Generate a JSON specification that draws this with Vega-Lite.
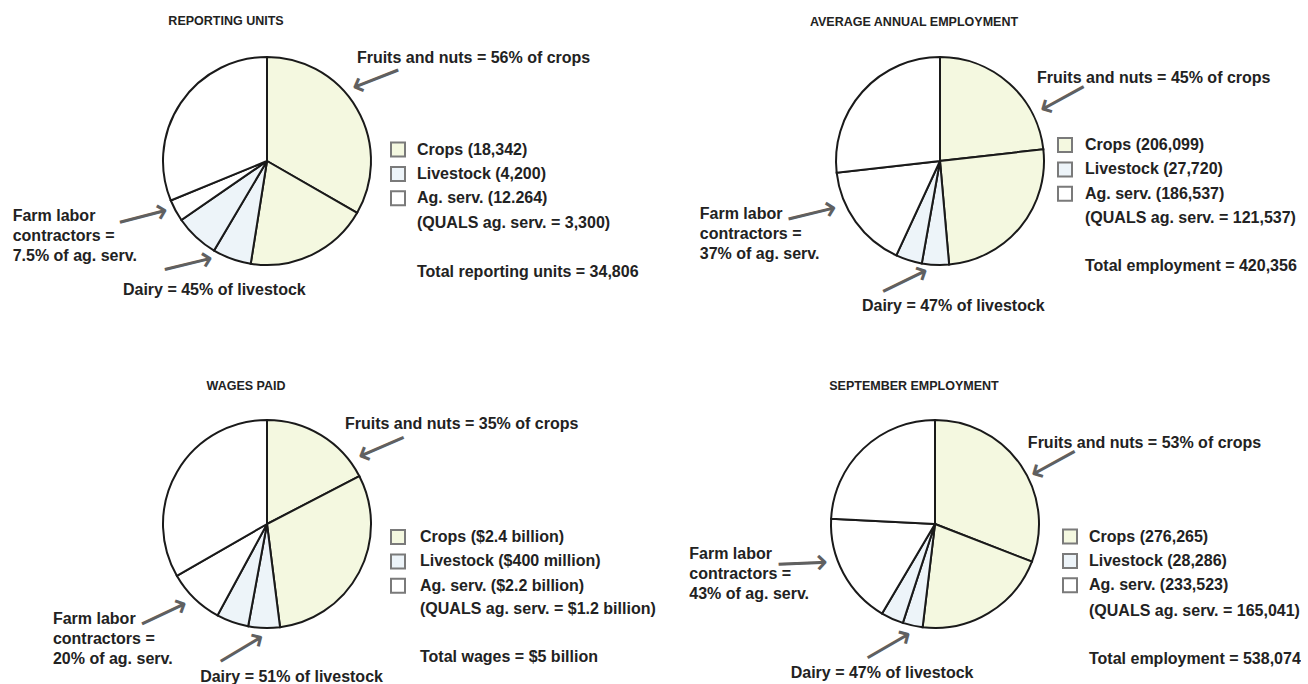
{
  "$schema": "https://vega.github.io/schema/vega-lite/v6.json",
  "background": "white",
  "padding": {"left": 12, "top": 15, "right": 0, "bottom": 0},
  "bounds": "flush",
  "columns": 2,
  "spacing": {"row": 153, "column": 460},
  "config": {
    "view": {"stroke": null},
    "font": "Liberation Sans",
    "title": {"font": "Liberation Sans", "fontSize": 12.5, "fontWeight": "bold", "color": "#222222", "anchor": "middle", "baseline": "alphabetic", "frame": "group"},
    "text": {"font": "Liberation Sans", "fontWeight": "bold", "color": "#222222"},
    "arc": {"stroke": "#1a1a1a", "strokeWidth": 2, "outerRadius": 104},
    "legend": {
      "orient": "none", "direction": "vertical", "title": null, "padding": 0,
      "symbolType": "square", "symbolSize": 196, "symbolStrokeColor": "#7a7a7a", "symbolStrokeWidth": 1,
      "labelFont": "Liberation Sans", "labelFontSize": 16, "labelFontWeight": "bold", "labelColor": "#222222",
      "labelOffset": 11, "rowPadding": 2.4, "labelLimit": 400
    }
  },
  "data": {"values": [
    {"chart": "reporting", "order": 1, "segment": "Fruits and nuts", "group": "Crops (18,342)", "share": 33.3, "note": "Fruits and nuts = 56% of crops"},
    {"chart": "reporting", "order": 2, "segment": "Other crops", "group": "Crops (18,342)", "share": 19.2},
    {"chart": "reporting", "order": 3, "segment": "Dairy", "group": "Livestock (4,200)", "share": 6.0, "note": "Dairy = 45% of livestock"},
    {"chart": "reporting", "order": 4, "segment": "Other livestock", "group": "Livestock (4,200)", "share": 6.9},
    {"chart": "reporting", "order": 5, "segment": "Farm labor contractors", "group": "Ag. serv. (12.264)", "share": 3.4, "note": "Farm labor\ncontractors =\n7.5% of ag. serv."},
    {"chart": "reporting", "order": 6, "segment": "Other ag. serv.", "group": "Ag. serv. (12.264)", "share": 31.2},
    {"chart": "annual", "order": 1, "segment": "Fruits and nuts", "group": "Crops (206,099)", "share": 23.2, "note": "Fruits and nuts = 45% of crops"},
    {"chart": "annual", "order": 2, "segment": "Other crops", "group": "Crops (206,099)", "share": 25.4},
    {"chart": "annual", "order": 3, "segment": "Dairy", "group": "Livestock (27,720)", "share": 4.2, "note": "Dairy = 47% of livestock"},
    {"chart": "annual", "order": 4, "segment": "Other livestock", "group": "Livestock (27,720)", "share": 4.1},
    {"chart": "annual", "order": 5, "segment": "Farm labor contractors", "group": "Ag. serv. (186,537)", "share": 16.3, "note": "Farm labor\ncontractors =\n37% of ag. serv."},
    {"chart": "annual", "order": 6, "segment": "Other ag. serv.", "group": "Ag. serv. (186,537)", "share": 26.8},
    {"chart": "wages", "order": 1, "segment": "Fruits and nuts", "group": "Crops ($2.4 billion)", "share": 17.4, "note": "Fruits and nuts = 35% of crops"},
    {"chart": "wages", "order": 2, "segment": "Other crops", "group": "Crops ($2.4 billion)", "share": 30.6},
    {"chart": "wages", "order": 3, "segment": "Dairy", "group": "Livestock ($400 million)", "share": 4.9, "note": "Dairy = 51% of livestock"},
    {"chart": "wages", "order": 4, "segment": "Other livestock", "group": "Livestock ($400 million)", "share": 5.0},
    {"chart": "wages", "order": 5, "segment": "Farm labor contractors", "group": "Ag. serv. ($2.2 billion)", "share": 8.8, "note": "Farm labor\ncontractors =\n20% of ag. serv."},
    {"chart": "wages", "order": 6, "segment": "Other ag. serv.", "group": "Ag. serv. ($2.2 billion)", "share": 33.3},
    {"chart": "september", "order": 1, "segment": "Fruits and nuts", "group": "Crops (276,265)", "share": 30.9, "note": "Fruits and nuts = 53% of crops"},
    {"chart": "september", "order": 2, "segment": "Other crops", "group": "Crops (276,265)", "share": 21.0},
    {"chart": "september", "order": 3, "segment": "Dairy", "group": "Livestock (28,286)", "share": 3.1, "note": "Dairy = 47% of livestock"},
    {"chart": "september", "order": 4, "segment": "Other livestock", "group": "Livestock (28,286)", "share": 3.5},
    {"chart": "september", "order": 5, "segment": "Farm labor contractors", "group": "Ag. serv. (233,523)", "share": 17.3, "note": "Farm labor\ncontractors =\n43% of ag. serv."},
    {"chart": "september", "order": 6, "segment": "Other ag. serv.", "group": "Ag. serv. (233,523)", "share": 24.2}
  ]},
  "concat": [
    {
      "width": 210, "height": 210,
      "title": {"text": "REPORTING UNITS", "dx": -41, "offset": 22},
      "transform": [{"filter": "datum.chart === 'reporting'"}],
      "encoding": {"order": {"field": "order", "type": "quantitative"}},
      "layer": [
        {"mark": {"type": "arc"},
         "encoding": {
           "theta": {"field": "share", "type": "quantitative", "stack": true, "scale": {"domain": [0, 100]}},
           "fill": {"field": "group", "type": "nominal",
             "scale": {"domain": ["Crops (18,342)", "Livestock (4,200)", "Ag. serv. (12.264)"], "range": ["#f4f8e0", "#edf4f9", "#ffffff"]},
             "legend": {"legendX": 228, "legendY": 85.5}}
         }},
        {"data": {"values": [{"line": "(QUALS ag. serv. = 3,300)"}, {"line": " "}, {"line": "Total reporting units = 34,806"}]},
         "mark": {"type": "point", "opacity": 0},
         "encoding": {"shape": {"field": "line", "type": "nominal",
           "scale": {"domain": ["(QUALS ag. serv. = 3,300)", " ", "Total reporting units = 34,806"], "range": ["square", "square", "square"]},
           "legend": {"legendX": 228, "legendY": 159.4, "symbolOpacity": 0, "rowPadding": 8.1}}}},
        {"mark": {"type": "text", "radius": 125, "dx": -18.3, "dy": -40.5, "align": "left", "baseline": "middle"},
         "encoding": {"theta": {"field": "share", "type": "quantitative", "stack": true},
           "size": {"condition": {"test": "datum.segment === 'Fruits and nuts'", "value": 16}, "value": 0},
           "text": {"condition": {"test": "datum.segment === 'Fruits and nuts'", "field": "note"}, "value": ""}}},
        {"mark": {"type": "text", "radius": 125, "dx": -144.4, "dy": -12.5, "align": "left", "baseline": "top", "lineBreak": "\n", "lineHeight": 20},
         "encoding": {"theta": {"field": "share", "type": "quantitative", "stack": true},
           "size": {"condition": {"test": "datum.segment === 'Farm labor contractors'", "value": 16}, "value": 0},
           "text": {"condition": {"test": "datum.segment === 'Farm labor contractors'", "field": "note"}, "value": ""}}},
        {"mark": {"type": "text", "radius": 125, "dx": -101.7, "dy": 11.3, "align": "left", "baseline": "middle"},
         "encoding": {"theta": {"field": "share", "type": "quantitative", "stack": true},
           "size": {"condition": {"test": "datum.segment === 'Dairy'", "value": 16}, "value": 0},
           "text": {"condition": {"test": "datum.segment === 'Dairy'", "field": "note"}, "value": ""}}},
        {"mark": {"type": "text", "radius": 112, "angle": 158.6, "align": "right", "baseline": "middle", "font": "DejaVu Sans", "fontWeight": "normal", "color": "#606060"},
         "encoding": {"theta": {"field": "share", "type": "quantitative", "stack": true, "bandPosition": 0.411},
           "size": {"condition": {"test": "datum.segment === 'Fruits and nuts'", "value": 36}, "value": 0},
           "text": {"condition": {"test": "datum.segment === 'Fruits and nuts'", "value": "⟶"}, "value": ""}}},
        {"mark": {"type": "text", "radius": 110.5, "angle": -14.6, "align": "right", "baseline": "middle", "font": "DejaVu Sans", "fontWeight": "normal", "color": "#606060"},
         "encoding": {"theta": {"field": "share", "type": "quantitative", "stack": true, "bandPosition": 0.672},
           "size": {"condition": {"test": "datum.segment === 'Farm labor contractors'", "value": 36}, "value": 0},
           "text": {"condition": {"test": "datum.segment === 'Farm labor contractors'", "value": "⟶"}, "value": ""}}},
        {"mark": {"type": "text", "radius": 111, "angle": -13.7, "align": "right", "baseline": "middle", "font": "DejaVu Sans", "fontWeight": "normal", "color": "#606060"},
         "encoding": {"theta": {"field": "share", "type": "quantitative", "stack": true, "bandPosition": 0.93},
           "size": {"condition": {"test": "datum.segment === 'Dairy'", "value": 36}, "value": 0},
           "text": {"condition": {"test": "datum.segment === 'Dairy'", "value": "⟶"}, "value": ""}}}
      ]
    },
    {
      "width": 216, "height": 210,
      "title": {"text": "AVERAGE ANNUAL EMPLOYMENT", "dx": -26, "offset": 11.2},
      "transform": [{"filter": "datum.chart === 'annual'"}],
      "encoding": {"order": {"field": "order", "type": "quantitative"}},
      "layer": [
        {"mark": {"type": "arc"},
         "encoding": {
           "theta": {"field": "share", "type": "quantitative", "stack": true, "scale": {"domain": [0, 100]}},
           "fill": {"field": "group", "type": "nominal",
             "scale": {"domain": ["Crops (206,099)", "Livestock (27,720)", "Ag. serv. (186,537)"], "range": ["#f4f8e0", "#edf4f9", "#ffffff"]},
             "legend": {"legendX": 225, "legendY": 81, "labelOffset": 12}}
         }},
        {"data": {"values": [{"line": "(QUALS ag. serv. = 121,537)"}, {"line": " "}, {"line": "Total employment = 420,356"}]},
         "mark": {"type": "point", "opacity": 0},
         "encoding": {"shape": {"field": "line", "type": "nominal",
           "scale": {"domain": ["(QUALS ag. serv. = 121,537)", " ", "Total employment = 420,356"], "range": ["square", "square", "square"]},
           "legend": {"legendX": 225, "legendY": 153.5, "labelOffset": 12, "symbolOpacity": 0, "rowPadding": 8.1}}}},
        {"mark": {"type": "text", "radius": 125, "dx": 13.85, "dy": 10.2, "align": "left", "baseline": "middle"},
         "encoding": {"theta": {"field": "share", "type": "quantitative", "stack": true},
           "size": {"condition": {"test": "datum.segment === 'Fruits and nuts'", "value": 16}, "value": 0},
           "text": {"condition": {"test": "datum.segment === 'Fruits and nuts'", "field": "note"}, "value": ""}}},
        {"mark": {"type": "text", "radius": 125, "dx": -138.9, "dy": -28.5, "align": "left", "baseline": "top", "lineBreak": "\n", "lineHeight": 20},
         "encoding": {"theta": {"field": "share", "type": "quantitative", "stack": true},
           "size": {"condition": {"test": "datum.segment === 'Farm labor contractors'", "value": 16}, "value": 0},
           "text": {"condition": {"test": "datum.segment === 'Farm labor contractors'", "field": "note"}, "value": ""}}},
        {"mark": {"type": "text", "radius": 125, "dx": -72.55, "dy": 20, "align": "left", "baseline": "middle"},
         "encoding": {"theta": {"field": "share", "type": "quantitative", "stack": true},
           "size": {"condition": {"test": "datum.segment === 'Dairy'", "value": 16}, "value": 0},
           "text": {"condition": {"test": "datum.segment === 'Dairy'", "field": "note"}, "value": ""}}},
        {"mark": {"type": "text", "radius": 112.3, "angle": 151.3, "align": "right", "baseline": "middle", "font": "DejaVu Sans", "fontWeight": "normal", "color": "#606060"},
         "encoding": {"theta": {"field": "share", "type": "quantitative", "stack": true, "bandPosition": 0.755},
           "size": {"condition": {"test": "datum.segment === 'Fruits and nuts'", "value": 36}, "value": 0},
           "text": {"condition": {"test": "datum.segment === 'Fruits and nuts'", "value": "⟶"}, "value": ""}}},
        {"mark": {"type": "text", "radius": 113.2, "angle": -13.7, "align": "right", "baseline": "middle", "font": "DejaVu Sans", "fontWeight": "normal", "color": "#606060"},
         "encoding": {"theta": {"field": "share", "type": "quantitative", "stack": true, "bandPosition": 0.696},
           "size": {"condition": {"test": "datum.segment === 'Farm labor contractors'", "value": 36}, "value": 0},
           "text": {"condition": {"test": "datum.segment === 'Farm labor contractors'", "value": "⟶"}, "value": ""}}},
        {"mark": {"type": "text", "radius": 109.7, "angle": -26, "align": "right", "baseline": "middle", "font": "DejaVu Sans", "fontWeight": "normal", "color": "#606060"},
         "encoding": {"theta": {"field": "share", "type": "quantitative", "stack": true, "bandPosition": 0.753},
           "size": {"condition": {"test": "datum.segment === 'Dairy'", "value": 36}, "value": 0},
           "text": {"condition": {"test": "datum.segment === 'Dairy'", "value": "⟶"}, "value": ""}}}
      ]
    },
    {
      "width": 210, "height": 210,
      "title": {"text": "WAGES PAID", "dx": -21, "offset": 22.25},
      "transform": [{"filter": "datum.chart === 'wages'"}],
      "encoding": {"order": {"field": "order", "type": "quantitative"}},
      "layer": [
        {"mark": {"type": "arc"},
         "encoding": {
           "theta": {"field": "share", "type": "quantitative", "stack": true, "scale": {"domain": [0, 100]}},
           "fill": {"field": "group", "type": "nominal",
             "scale": {"domain": ["Crops ($2.4 billion)", "Livestock ($400 million)", "Ag. serv. ($2.2 billion)"], "range": ["#f4f8e0", "#edf4f9", "#ffffff"]},
             "legend": {"legendX": 228, "legendY": 110, "labelOffset": 14}}
         }},
        {"data": {"values": [{"line": "(QUALS ag. serv. = $1.2 billion)"}, {"line": " "}, {"line": "Total wages = $5 billion"}]},
         "mark": {"type": "point", "opacity": 0},
         "encoding": {"shape": {"field": "line", "type": "nominal",
           "scale": {"domain": ["(QUALS ag. serv. = $1.2 billion)", " ", "Total wages = $5 billion"], "range": ["square", "square", "square"]},
           "legend": {"legendX": 228, "legendY": 182.2, "labelOffset": 14, "symbolOpacity": 0, "rowPadding": 8.1}}}},
        {"mark": {"type": "text", "radius": 125, "dx": 13, "dy": 6.65, "align": "left", "baseline": "middle"},
         "encoding": {"theta": {"field": "share", "type": "quantitative", "stack": true},
           "size": {"condition": {"test": "datum.segment === 'Fruits and nuts'", "value": 16}, "value": 0},
           "text": {"condition": {"test": "datum.segment === 'Fruits and nuts'", "field": "note"}, "value": ""}}},
        {"mark": {"type": "text", "radius": 125, "dx": -126.8, "dy": -2.5, "align": "left", "baseline": "top", "lineBreak": "\n", "lineHeight": 20},
         "encoding": {"theta": {"field": "share", "type": "quantitative", "stack": true},
           "size": {"condition": {"test": "datum.segment === 'Farm labor contractors'", "value": 16}, "value": 0},
           "text": {"condition": {"test": "datum.segment === 'Farm labor contractors'", "field": "note"}, "value": ""}}},
        {"mark": {"type": "text", "radius": 125, "dx": -63.3, "dy": 28, "align": "left", "baseline": "middle"},
         "encoding": {"theta": {"field": "share", "type": "quantitative", "stack": true},
           "size": {"condition": {"test": "datum.segment === 'Dairy'", "value": 16}, "value": 0},
           "text": {"condition": {"test": "datum.segment === 'Dairy'", "field": "note"}, "value": ""}}},
        {"mark": {"type": "text", "radius": 113, "angle": 156.6, "align": "right", "baseline": "middle", "font": "DejaVu Sans", "fontWeight": "normal", "color": "#606060"},
         "encoding": {"theta": {"field": "share", "type": "quantitative", "stack": true, "bandPosition": 0.855},
           "size": {"condition": {"test": "datum.segment === 'Fruits and nuts'", "value": 36}, "value": 0},
           "text": {"condition": {"test": "datum.segment === 'Fruits and nuts'", "value": "⟶"}, "value": ""}}},
        {"mark": {"type": "text", "radius": 112.4, "angle": -25.4, "align": "right", "baseline": "middle", "font": "DejaVu Sans", "fontWeight": "normal", "color": "#606060"},
         "encoding": {"theta": {"field": "share", "type": "quantitative", "stack": true, "bandPosition": 0.536},
           "size": {"condition": {"test": "datum.segment === 'Farm labor contractors'", "value": 36}, "value": 0},
           "text": {"condition": {"test": "datum.segment === 'Farm labor contractors'", "value": "⟶"}, "value": ""}}},
        {"mark": {"type": "text", "radius": 112.1, "angle": -31, "align": "right", "baseline": "middle", "font": "DejaVu Sans", "fontWeight": "normal", "color": "#606060"},
         "encoding": {"theta": {"field": "share", "type": "quantitative", "stack": true, "bandPosition": 0.517},
           "size": {"condition": {"test": "datum.segment === 'Dairy'", "value": 36}, "value": 0},
           "text": {"condition": {"test": "datum.segment === 'Dairy'", "value": "⟶"}, "value": ""}}}
      ]
    },
    {
      "width": 206, "height": 210,
      "title": {"text": "SEPTEMBER EMPLOYMENT", "dx": -21, "offset": 4},
      "transform": [{"filter": "datum.chart === 'september'"}],
      "encoding": {"order": {"field": "order", "type": "quantitative"}},
      "layer": [
        {"mark": {"type": "arc"},
         "encoding": {
           "theta": {"field": "share", "type": "quantitative", "stack": true, "scale": {"domain": [0, 100]}},
           "fill": {"field": "group", "type": "nominal",
             "scale": {"domain": ["Crops (276,265)", "Livestock (28,286)", "Ag. serv. (233,523)"], "range": ["#f4f8e0", "#edf4f9", "#ffffff"]},
             "legend": {"legendX": 230, "legendY": 109.5, "labelOffset": 11}}
         }},
        {"data": {"values": [{"line": "(QUALS ag. serv. = 165,041)"}, {"line": " "}, {"line": "Total employment = 538,074"}]},
         "mark": {"type": "point", "opacity": 0},
         "encoding": {"shape": {"field": "line", "type": "nominal",
           "scale": {"domain": ["(QUALS ag. serv. = 165,041)", " ", "Total employment = 538,074"], "range": ["square", "square", "square"]},
           "legend": {"legendX": 230, "legendY": 183.7, "labelOffset": 11, "symbolOpacity": 0, "rowPadding": 8.1}}}},
        {"mark": {"type": "text", "radius": 125, "dx": -10.3, "dy": -10.65, "align": "left", "baseline": "middle"},
         "encoding": {"theta": {"field": "share", "type": "quantitative", "stack": true},
           "size": {"condition": {"test": "datum.segment === 'Fruits and nuts'", "value": 16}, "value": 0},
           "text": {"condition": {"test": "datum.segment === 'Fruits and nuts'", "field": "note"}, "value": ""}}},
        {"mark": {"type": "text", "radius": 125, "dx": -135.6, "dy": -36.7, "align": "left", "baseline": "top", "lineBreak": "\n", "lineHeight": 20},
         "encoding": {"theta": {"field": "share", "type": "quantitative", "stack": true},
           "size": {"condition": {"test": "datum.segment === 'Farm labor contractors'", "value": 16}, "value": 0},
           "text": {"condition": {"test": "datum.segment === 'Farm labor contractors'", "field": "note"}, "value": ""}}},
        {"mark": {"type": "text", "radius": 125, "dx": -117.4, "dy": 27, "align": "left", "baseline": "middle"},
         "encoding": {"theta": {"field": "share", "type": "quantitative", "stack": true},
           "size": {"condition": {"test": "datum.segment === 'Dairy'", "value": 16}, "value": 0},
           "text": {"condition": {"test": "datum.segment === 'Dairy'", "field": "note"}, "value": ""}}},
        {"mark": {"type": "text", "radius": 107.8, "angle": 151.3, "align": "right", "baseline": "middle", "font": "DejaVu Sans", "fontWeight": "normal", "color": "#606060"},
         "encoding": {"theta": {"field": "share", "type": "quantitative", "stack": true, "bandPosition": 0.565},
           "size": {"condition": {"test": "datum.segment === 'Fruits and nuts'", "value": 36}, "value": 0},
           "text": {"condition": {"test": "datum.segment === 'Fruits and nuts'", "value": "⟶"}, "value": ""}}},
        {"mark": {"type": "text", "radius": 113.5, "angle": -2.3, "align": "right", "baseline": "middle", "font": "DejaVu Sans", "fontWeight": "normal", "color": "#606060"},
         "encoding": {"theta": {"field": "share", "type": "quantitative", "stack": true, "bandPosition": 0.635},
           "size": {"condition": {"test": "datum.segment === 'Farm labor contractors'", "value": 36}, "value": 0},
           "text": {"condition": {"test": "datum.segment === 'Farm labor contractors'", "value": "⟶"}, "value": ""}}},
        {"mark": {"type": "text", "radius": 111.8, "angle": -30, "align": "right", "baseline": "middle", "font": "DejaVu Sans", "fontWeight": "normal", "color": "#606060"},
         "encoding": {"theta": {"field": "share", "type": "quantitative", "stack": true, "bandPosition": 0.513},
           "size": {"condition": {"test": "datum.segment === 'Dairy'", "value": 36}, "value": 0},
           "text": {"condition": {"test": "datum.segment === 'Dairy'", "value": "⟶"}, "value": ""}}}
      ]
    }
  ],
  "resolve": {"scale": {"fill": "independent", "shape": "independent", "theta": "independent"}, "legend": {"fill": "independent", "shape": "independent"}}
}
